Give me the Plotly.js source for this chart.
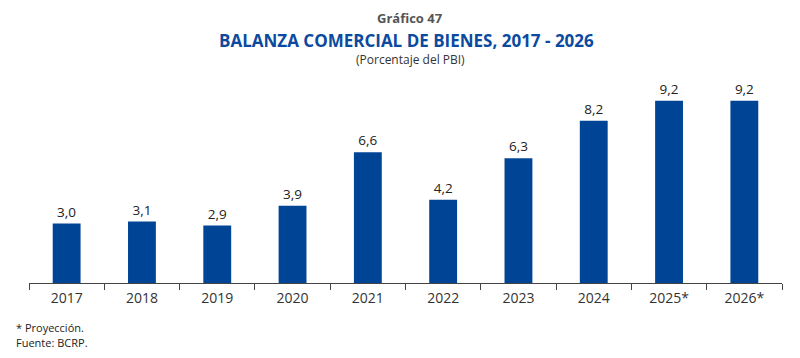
<!DOCTYPE html>
<html><head><meta charset="utf-8">
<script src="https://cdn.plot.ly/plotly-3.0.1.min.js"></script>
<style>body{margin:0;background:#fff}#c{width:800px;height:358px}</style>
</head><body><div id="c"></div>
<script>
const categories = ["2017","2018","2019","2020","2021","2022","2023","2024","2025*","2026*"];
const values = [3.0,3.1,2.9,3.9,6.6,4.2,6.3,8.2,9.2,9.2];
const labels = values.map(v => v.toFixed(1).replace('.', ','));
const font = "Open Sans, Noto Sans, sans-serif";
const W=800,H=358,l=29,r=18,t=85,b=75;
const pw=W-l-r, ph=H-t-b;
function px(xp){return (xp-l)/pw;}
function py(yp){return (H-b-yp)/ph;}
Plotly.newPlot('c', [{
  type:'bar', x:categories, y:values, text:labels, textposition:'outside',
  textfont:{family:font,size:13.5,color:'#222'}, cliponaxis:false,
  marker:{color:'#004595'}, hoverinfo:'none'
}], {
  width:W, height:H, margin:{l:l,r:r,t:t,b:b},
  paper_bgcolor:'#fff', plot_bgcolor:'#fff', bargap:0.63, showlegend:false,
  xaxis:{type:'category', showline:true, linecolor:'#444', linewidth:1, ticks:'outside', tickson:'boundaries',
    ticklen:6, tickcolor:'#444', ticklabelstandoff:2, tickfont:{family:font,size:14,color:'#333'}, showgrid:false, fixedrange:true},
  yaxis:{range:[0,10], visible:false, showgrid:false, zeroline:false},
  annotations:[
    {text:'<b>Gráfico 47</b>', xref:'paper', yref:'paper', x:px(410), y:py(18), yanchor:'middle', showarrow:false, font:{family:font,size:13,color:'#555'}},
    {text:'<b>BALANZA COMERCIAL DE BIENES, 2017 - 2026</b>', xref:'paper', yref:'paper', x:px(406), y:py(41), yanchor:'middle', showarrow:false, font:{family:font,size:17,color:'#0b4a9e'}},
    {text:'(Porcentaje del PBI)', xref:'paper', yref:'paper', x:px(410), y:py(59), yanchor:'middle', showarrow:false, font:{family:font,size:12,color:'#333'}},
    {text:'* Proyección.', xref:'paper', yref:'paper', x:px(14), y:py(327), xanchor:'left', yanchor:'middle', showarrow:false, font:{family:font,size:11,color:'#222'}},
    {text:'Fuente: BCRP.', xref:'paper', yref:'paper', x:px(14), y:py(342), xanchor:'left', yanchor:'middle', showarrow:false, font:{family:font,size:11,color:'#222'}}
  ]
}, {staticPlot:true});
</script></body></html>
